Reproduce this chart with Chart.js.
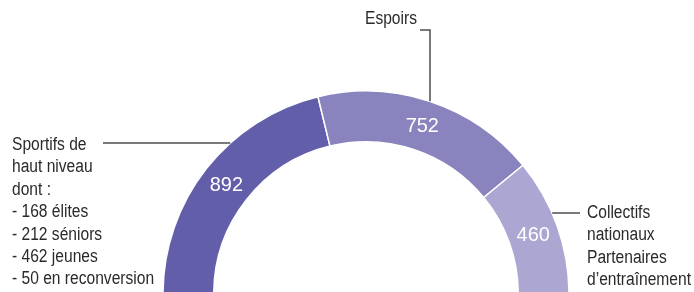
<!DOCTYPE html>
<html>
<head>
<meta charset="utf-8">
<script src="https://cdn.jsdelivr.net/npm/chart.js@4"></script>
<style>
html,body{margin:0;padding:0;background:#fff;overflow:hidden;}
canvas{display:block;}
</style>
</head>
<body>
<canvas id="c" width="694" height="292"></canvas>
<script>
// ---- data ----
const categories = ['Sportifs de haut niveau', 'Espoirs', 'Collectifs nationaux – Partenaires d’entraînement'];
const values = [892, 752, 460];
const calloutLines = [
  ['Sportifs de', 'haut niveau', 'dont :', '- 168 élites', '- 212 séniors', '- 462 jeunes', '- 50 en reconversion'],
  ['Espoirs'],
  ['Collectifs', 'nationaux', 'Partenaires', 'd’entraînement']
];

// ---- style ----
const colors = ['#625ea9', '#8984bd', '#aca7d2'];
const textFont = '18px "Liberation Sans", Arial, sans-serif';
const textScaleX = 0.866;
const valueFont = '21px "Liberation Sans", Arial, sans-serif';
const valueScaleX = 0.95;
const textColor = '#2a2a2a';
const leaderColor = '#4d4d4d';

// callout layout (text block position, leader geometry)
const calloutLayout = [
  {textX: 12, textY: 145, lineH: 22.4, leader: {type: 'h', y: 143, fromX: 103}},
  {textX: 365, textY: 19, lineH: 22.4, leader: {type: 'elbow', y: 30, fromX: 420, x: 430}},
  {textX: 587, textY: 213, lineH: 22.3, leader: {type: 'h', y: 213, fromX: 580}}
];

function drawScaled(ctx, text, x, y, sx) {
  ctx.save();
  ctx.translate(x, y);
  ctx.scale(sx, 1);
  ctx.fillText(text, 0, 0);
  ctx.restore();
}

const overlay = {
  id: 'overlay',
  afterDraw(chart) {
    const ctx = chart.ctx;
    const meta = chart.getDatasetMeta(0);
    ctx.save();
    // value labels
    ctx.font = valueFont;
    ctx.fillStyle = '#ffffff';
    ctx.textAlign = 'center';
    ctx.textBaseline = 'middle';
    meta.data.forEach((arc, i) => {
      const p = arc.tooltipPosition();
      drawScaled(ctx, String(values[i]), p.x, p.y + 1, valueScaleX);
    });
    // callouts
    ctx.font = textFont;
    ctx.fillStyle = textColor;
    ctx.textAlign = 'left';
    ctx.strokeStyle = leaderColor;
    ctx.lineWidth = 1.5;
    meta.data.forEach((arc, i) => {
      const L = calloutLayout[i];
      const {x: cx, y: cy, outerRadius: R} = arc.getProps(['x', 'y', 'outerRadius'], true);
      calloutLines[i].forEach((t, k) => drawScaled(ctx, t, L.textX, L.textY + k * L.lineH, textScaleX));
      const ld = L.leader;
      ctx.beginPath();
      if (ld.type === 'h') {
        const dx = Math.sqrt(Math.max(R * R - (cy - ld.y) * (cy - ld.y), 0));
        const edgeX = ld.fromX < cx ? cx - dx : cx + dx;
        ctx.moveTo(ld.fromX, ld.y);
        ctx.lineTo(edgeX, ld.y);
      } else {
        const dy = Math.sqrt(Math.max(R * R - (ld.x - cx) * (ld.x - cx), 0));
        ctx.moveTo(ld.fromX, ld.y);
        ctx.lineTo(ld.x, ld.y);
        ctx.lineTo(ld.x, cy - dy);
      }
      ctx.stroke();
    });
    ctx.restore();
  }
};

new Chart(document.getElementById('c'), {
  type: 'doughnut',
  data: {
    labels: categories,
    datasets: [{
      data: values,
      backgroundColor: colors,
      borderColor: '#ffffff',
      borderWidth: 1.5,
      hoverOffset: 0
    }]
  },
  options: {
    responsive: false,
    animation: false,
    rotation: -90,
    circumference: 180,
    cutout: '75%',
    radius: 203,
    layout: {padding: {top: 93, bottom: 0, left: 38, right: 0}},
    plugins: {legend: {display: false}, tooltip: {enabled: false}}
  },
  plugins: [overlay]
});
</script>
</body>
</html>
